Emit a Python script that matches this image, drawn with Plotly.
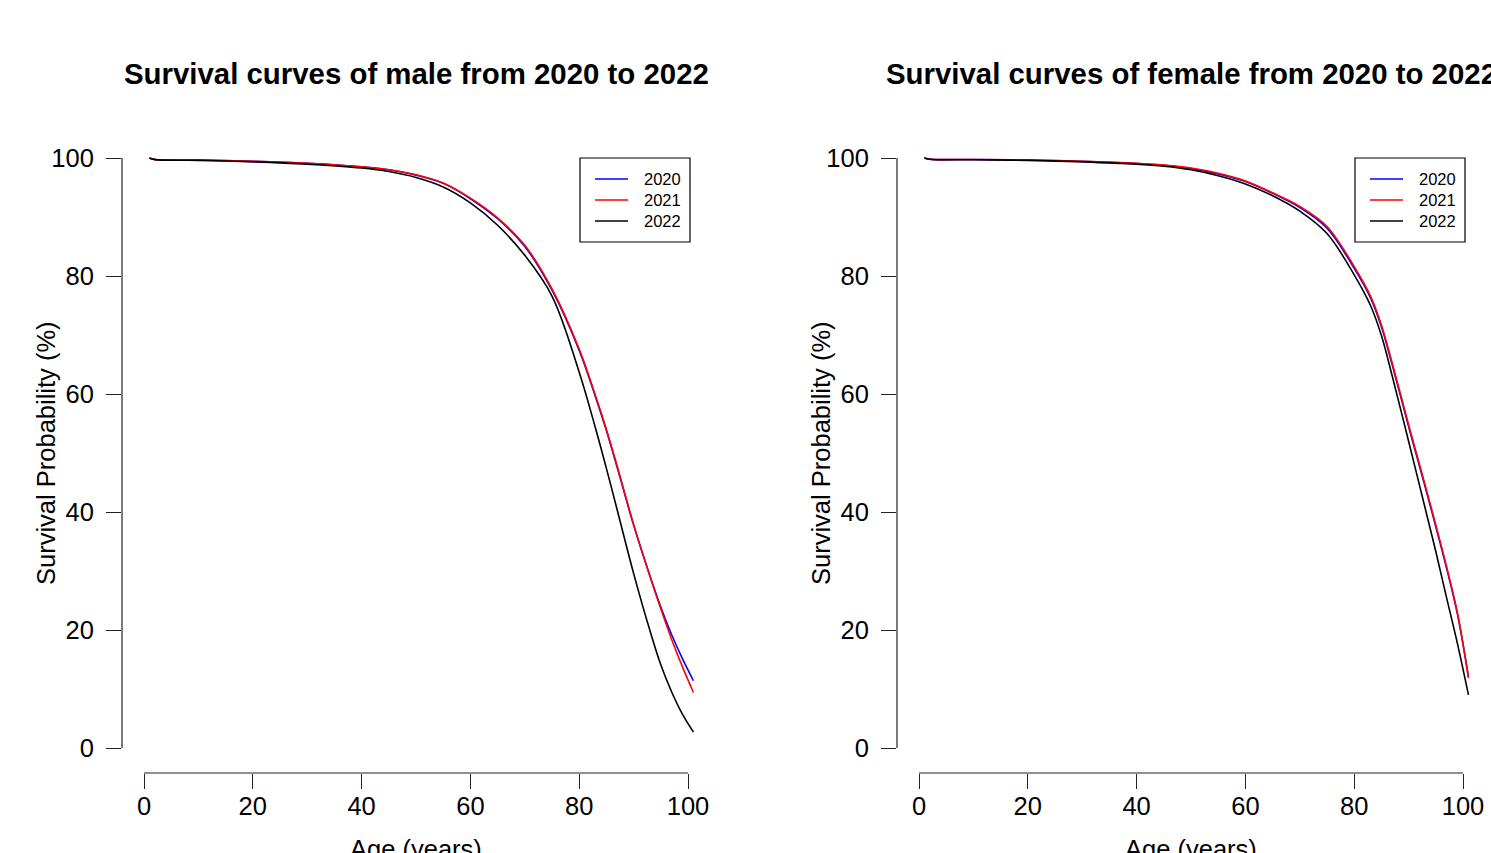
import plotly.graph_objects as go

# ---------------- data ----------------
ages = [1, 2, 10, 20, 30, 40, 45, 50, 55, 60, 65, 70, 75, 80, 83, 85, 87, 90, 93, 95, 97, 99, 101]

years = ["2020", "2021", "2022"]
colors = ["blue", "red", "black"]

male_2020 = [100, 99.75, 99.65, 99.45, 99.1, 98.5, 98.0, 97.1, 95.7, 93.1, 89.7, 85.0, 77.6, 67.4, 59.5, 53.8, 47.5, 37.8, 29.2, 23.9, 19.2, 15.1, 11.4]
male_2021 = [100, 99.75, 99.65, 99.45, 99.1, 98.5, 98.0, 97.15, 95.75, 93.2, 89.85, 85.2, 77.8, 67.6, 59.7, 54.0, 47.7, 37.9, 29.1, 23.6, 18.4, 13.7, 9.4]
male_2022 = [100, 99.72, 99.6, 99.35, 98.95, 98.3, 97.7, 96.7, 95.1, 92.4, 88.6, 83.5, 76.6, 63.7, 54.2, 47.4, 40.3, 29.6, 19.9, 14.1, 9.5, 5.7, 2.7]

female_2020 = [100, 99.8, 99.75, 99.65, 99.45, 99.05, 98.75, 98.2, 97.3, 96.0, 94.0, 91.6, 88.1, 81.3, 76.3, 71.4, 64.9, 54.5, 44.4, 37.5, 30.4, 22.6, 12.1]
female_2021 = [100, 99.8, 99.75, 99.65, 99.45, 99.1, 98.8, 98.3, 97.4, 96.1, 94.1, 91.8, 88.4, 81.6, 76.6, 71.7, 65.2, 54.8, 44.7, 37.8, 30.7, 22.8, 11.9]
female_2022 = [100, 99.78, 99.7, 99.6, 99.35, 98.95, 98.6, 98.0, 97.0, 95.6, 93.6, 91.0, 87.2, 80.2, 75.0, 69.9, 63.0, 52.0, 40.8, 33.3, 25.4, 17.6, 9.0]

male = [male_2020, male_2021, male_2022]
female = [female_2020, female_2021, female_2022]

titles = ["Survival curves of male from 2020 to 2022",
          "Survival curves of female from 2020 to 2022"]
x_title = "Age (years)"
y_title = "Survival Probability (%)"
x_ticks = [0, 20, 40, 60, 80, 100]
y_ticks = [0, 20, 40, 60, 80, 100]

# ---------------- layout helpers ----------------
W, H = 1491, 853
FONT = "Liberation Sans, Arial, Helvetica, sans-serif"


def px(x):
    return x / W


def py(y):
    return 1 - y / H


fig = go.Figure()

panel_offset = [0, 775]
axis_names = [("x", "y"), ("x2", "y2")]

for p, data in enumerate([male, female]):
    xa, ya = axis_names[p]
    for vals, yr, col in zip(data, years, colors):
        fig.add_trace(go.Scatter(
            x=ages, y=vals, mode="lines", name=yr,
            line=dict(color=col, width=1.6, shape="spline", smoothing=1.0),
            xaxis=xa, yaxis=ya, showlegend=False, hoverinfo="skip"))

axis_common = dict(showgrid=False, zeroline=False, showline=False, automargin=False,
                   ticks="outside", ticklen=15, tickwidth=1.2, tickcolor="#222",
                   tickfont=dict(family=FONT, size=25.5, color="black"))

for p, off in enumerate(panel_offset):
    left = 122 + off
    right = 700 + off
    zero_px = 144 + off
    xscale = 5.44
    xr = [(left - zero_px) / xscale, (right - zero_px) / xscale]
    yr = [(748 - 773) / 5.9, (748 - 135) / 5.9]
    sfx = "" if p == 0 else "2"
    fig.update_layout(**{
        "xaxis" + sfx: dict(domain=[px(left), px(right)], range=xr,
                            tickvals=x_ticks, anchor="y" + sfx,
                            ticklabelstandoff=-5, **axis_common),
        "yaxis" + sfx: dict(domain=[py(773), py(135)], range=yr,
                            tickvals=y_ticks, anchor="x" + sfx,
                            ticklabelstandoff=7, **axis_common),
    })
    xref = "x" + sfx
    yref = "y" + sfx
    # R-style axis lines spanning first to last tick
    fig.add_shape(type="line", xref=xref, yref=yref + " domain",
                  x0=x_ticks[0], x1=x_ticks[-1], y0=0, y1=0,
                  line=dict(color="#222", width=1.2))
    fig.add_shape(type="line", xref=xref + " domain", yref=yref,
                  x0=0, x1=0, y0=y_ticks[0], y1=y_ticks[-1],
                  line=dict(color="#222", width=1.2))
    # title
    fig.add_annotation(text="<b>" + titles[p] + "</b>", xref="paper", yref="paper",
                       x=px(416 + off), y=py(73), xanchor="center", yanchor="middle",
                       showarrow=False, font=dict(family=FONT, size=29.4, color="black"))
    # axis titles
    fig.add_annotation(text=x_title, xref="paper", yref="paper",
                       x=px(416 + off), y=py(849), xanchor="center", yanchor="middle",
                       showarrow=False, font=dict(family=FONT, size=25.5, color="black"))
    fig.add_annotation(text=y_title, xref="paper", yref="paper",
                       x=px(46 + off), y=py(453), xanchor="center", yanchor="middle",
                       textangle=-90, showarrow=False,
                       font=dict(family=FONT, size=25.5, color="black"))
    # legend box (R style)
    fig.add_shape(type="rect", xref="paper", yref="paper",
                  x0=px(580 + off), x1=px(690 + off), y0=py(242), y1=py(158),
                  line=dict(color="black", width=1.2), fillcolor="rgba(0,0,0,0)")
    for i, (yrname, col) in enumerate(zip(years, colors)):
        yy = 179 + 21 * i
        fig.add_shape(type="line", xref="paper", yref="paper",
                      x0=px(595 + off), x1=px(628 + off), y0=py(yy), y1=py(yy),
                      line=dict(color=col, width=1.6))
        fig.add_annotation(text=yrname, xref="paper", yref="paper",
                           x=px(642 + off), y=py(yy), xanchor="left", yanchor="middle",
                           showarrow=False,
                           font=dict(family=FONT, size=16.5, color="black"))

fig.update_layout(width=W, height=H, autosize=False,
                  margin=dict(l=0, r=0, t=0, b=0, autoexpand=False),
                  paper_bgcolor="white", plot_bgcolor="white",
                  font=dict(family=FONT, color="black"), showlegend=False)

fig.write_html("out.html", config={"displayModeBar": False, "responsive": False},
               post_script="document.body.style.margin='0px';"
                           "document.body.style.padding='0px';"
                           "document.body.style.overflow='hidden';")
